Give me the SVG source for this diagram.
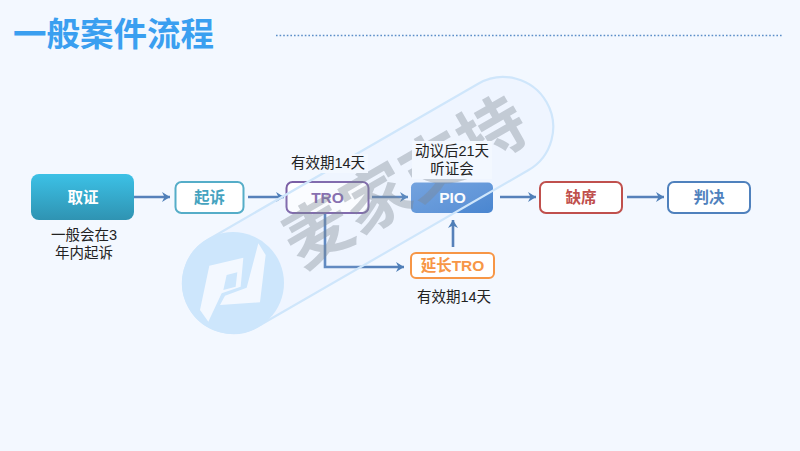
<svg xmlns="http://www.w3.org/2000/svg" width="800" height="451" viewBox="0 0 800 451">
<style>
.cjk{font-family:"Liberation Sans","Noto Sans CJK SC",sans-serif}
.note{font-size:14.500px;fill:#222;text-anchor:middle}
.lab{font-size:15.500px;font-weight:bold;text-anchor:middle}
.box{fill:#fff;stroke-width:2}
.c{fill:none;stroke:#5681ba;stroke-width:2.600;marker-end:url(#arr)}
</style>
<defs>
<marker id="arr" markerUnits="userSpaceOnUse" markerWidth="11" markerHeight="12" refX="9" refY="5.500" orient="auto"><path d="M1 0.500L9 5.500L1 10.500L3.500 5.500Z" fill="#4f7fb8"/></marker>
<linearGradient id="g1" x1="0" y1="0" x2="0" y2="1"><stop offset="0" stop-color="#3cc1e6"/><stop offset="1" stop-color="#2f93b2"/></linearGradient>
<linearGradient id="g2" x1="0" y1="0" x2="1" y2="1"><stop offset="0" stop-color="#6a9cdc"/><stop offset="1" stop-color="#4a86d0"/></linearGradient>
</defs>
<rect width="800" height="451" fill="#f3f8ff"/>
<text class="cjk" x="13" y="46" font-size="33.500" font-weight="bold" fill="#3a9ff0">一般案件流程</text>
<line x1="276" y1="35.500" x2="782" y2="35.500" stroke="#5b8ec8" stroke-width="1.600" stroke-dasharray="1.600 2"/>

<g id="connectors">
<path class="c" d="M134 197H170"/>
<path class="c" d="M248 197H284"/>
<path class="c" d="M372 197H408"/>
<path class="c" d="M325 214V267H404"/>
<path class="c" d="M453 247V220"/>
<path class="c" d="M500 197H536"/>
<path class="c" d="M627 197H664"/>
</g>

<g id="n-quzheng"><rect x="31" y="174" width="103" height="46" rx="8" fill="url(#g1)"/><text class="cjk lab" x="83" y="203" fill="#fff">取证</text>
<text class="cjk note" x="84" y="240">一般会在3</text><text class="cjk note" x="84" y="258">年内起诉</text></g>
<g id="n-qisu"><rect class="box" x="175.500" y="182" width="68" height="31" rx="6" stroke="#55adc8"/><text class="cjk lab" x="209.500" y="203" fill="#45a3bf">起诉</text></g>
<g id="n-tro"><rect class="box" x="286.500" y="182" width="82" height="31" rx="6" stroke="#7a5fa5"/><text class="cjk lab" x="327.500" y="203" fill="#8064a8">TRO</text></g>
<g id="n-pio"><rect x="411" y="182.500" width="82" height="30.500" rx="5" fill="url(#g2)"/><text class="cjk lab" x="452.500" y="203" fill="#fff">PIO</text></g>
<g id="n-ext"><rect class="box" x="411" y="253" width="83" height="25" rx="5" stroke="#f79646"/><text class="cjk lab" x="452.500" y="271" fill="#f79646">延长TRO</text>
<text class="cjk note" x="454" y="302">有效期14天</text></g>
<g id="n-queqi"><rect class="box" x="540" y="182" width="82" height="31" rx="6" stroke="#c0504d"/><text class="cjk lab" x="581" y="203" fill="#c0504d">缺席</text></g>
<g id="n-panjue"><rect class="box" x="668" y="182" width="82" height="31" rx="6" stroke="#4f81bd"/><text class="cjk lab" x="709" y="203" fill="#4f81bd">判决</text></g>

<g id="watermark">
<g transform="translate(233 283) rotate(-30)"><rect x="-50" y="-50" width="412" height="100" rx="50" fill="#cfe6fb" fill-opacity="0.1" stroke="#cfe6fb" stroke-width="2.200"/></g>
<circle cx="233" cy="283" r="51" fill="#cde6fc"/>
<g transform="translate(175 225) scale(0.3333)" fill="#f3f8ff">
<path fill-rule="evenodd" d="M75 255L103 122L205 98L197 185L140 205L100 290Z M155 150L187 142L182 185L145 195Z"/>
<path d="M250 55L272 90L255 232L135 240L150 212L215 188Z"/>
</g>
<text class="cjk" transform="translate(405 182) rotate(-30)" dy="24" font-size="67" font-weight="bold" text-anchor="middle" fill="#7c8590" fill-opacity="0.38">麦家支持</text>
</g>

<g id="note-tro"><rect x="288" y="154" width="80" height="19" fill="#f3f8ff"/><text class="cjk note" x="328" y="168">有效期14天</text></g>
<g id="note-pio"><rect x="412" y="141" width="80" height="38" fill="#f3f8ff"/><text class="cjk note" x="452" y="156">动议后21天</text><text class="cjk note" x="452" y="174">听证会</text></g>
</svg>
